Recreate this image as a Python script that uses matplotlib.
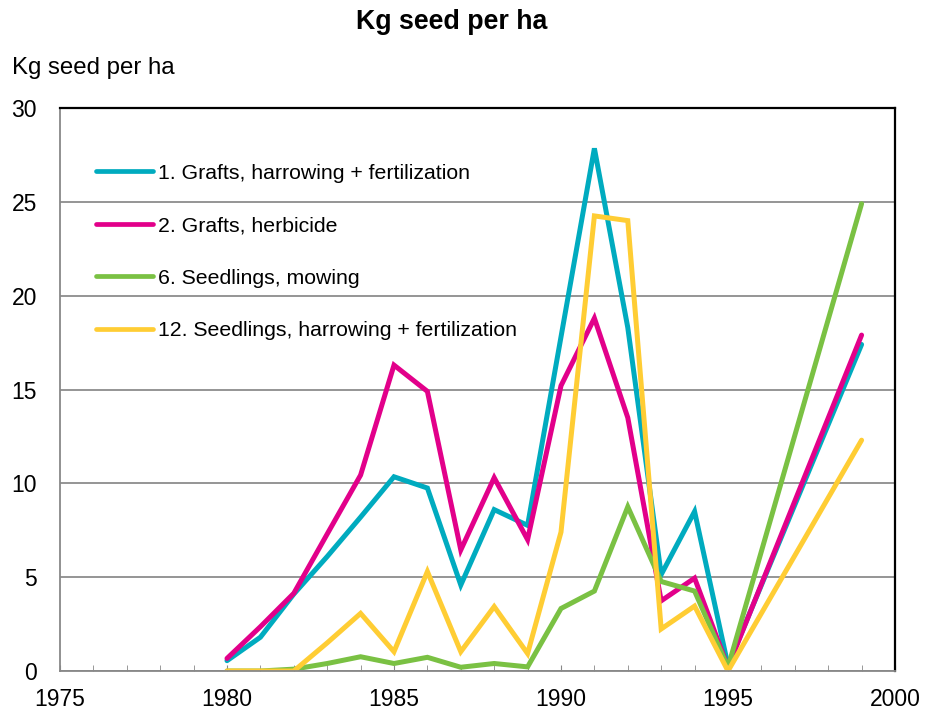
import matplotlib
matplotlib.use('Agg')
from matplotlib import pyplot as plt
from matplotlib.ticker import MultipleLocator

plt.rcParams['font.family'] = ['Liberation Sans', 'DejaVu Sans']

# data
years = [1980, 1981, 1982, 1983, 1984, 1985, 1986, 1987, 1988, 1989,
         1990, 1991, 1992, 1993, 1994, 1995, 1999]
grafts_harrow = [0.55, 1.8, 4.1, 6.1, 8.2, 10.35, 9.75, 4.58, 8.6, 7.76,
                 17.8, 27.85, 18.3, 5.14, 8.5, 0.3, 17.4]
grafts_herb = [0.67, 2.36, 4.14, 7.3, 10.44, 16.3, 14.9, 6.45, 10.3, 7.0,
               15.2, 18.8, 13.5, 3.74, 4.95, 0.2, 17.9]
seedl_mowing = [0.0, 0.0, 0.1, 0.4, 0.76, 0.4, 0.73, 0.2, 0.4, 0.22,
                3.33, 4.26, 8.75, 4.77, 4.26, 0.2, 24.9]
seedl_harrow = [0.0, 0.0, 0.0, 1.5, 3.07, 1.03, 5.3, 1.03, 3.43, 0.93,
                7.4, 24.25, 24.0, 2.24, 3.46, 0.0, 12.3]

labels = ['1. Grafts, harrowing + fertilization',
          '2. Grafts, herbicide',
          '6. Seedlings, mowing',
          '12. Seedlings, harrowing + fertilization']
colors = ['#00abbf', '#e2008a', '#7ac143', '#ffcd34']


def main():
    fig = plt.figure(figsize=(9.26, 7.13), dpi=100)
    ax = fig.add_axes([0.0648, 0.0589, 0.9017, 0.7896])

    series = [grafts_harrow, grafts_herb, seedl_mowing, seedl_harrow]
    for vals, lab, col in zip(series, labels, colors):
        ax.plot(years, vals, color=col, lw=3.6, label=lab,
                solid_joinstyle='miter', solid_capstyle='round')

    ax.set_xlim(1975, 2000)
    ax.set_ylim(0, 30)
    ax.xaxis.set_major_locator(MultipleLocator(5))
    ax.xaxis.set_minor_locator(MultipleLocator(1))
    ax.yaxis.set_major_locator(MultipleLocator(5))
    ax.tick_params(axis='x', which='both', direction='in', length=4.5,
                   color='#888888', labelsize=16.5, pad=12)
    ax.tick_params(axis='y', length=0, labelsize=16.5, pad=16.5)
    ax.grid(axis='y', color='#8c8c8c', lw=1.3)
    ax.set_axisbelow(True)

    for s in ['left', 'bottom']:
        ax.spines[s].set_color('#888888')
        ax.spines[s].set_linewidth(1.3)
    for s in ['top', 'right']:
        ax.spines[s].set_color('black')
        ax.spines[s].set_linewidth(1.6)

    leg = ax.legend(loc='upper left', bbox_to_anchor=(0.043, 0.901),
                    frameon=False, fontsize=15.3, handlelength=2.7,
                    handletextpad=0.2, labelspacing=1.58,
                    borderpad=0, borderaxespad=0)
    for line in leg.get_lines():
        line.set_linewidth(3.4)

    fig.text(0.488, 0.969, 'Kg seed per ha', ha='center', va='center',
             fontsize=19.3, fontweight='bold')
    fig.text(0.013, 0.905, 'Kg seed per ha', ha='left', va='center',
             fontsize=17.3)

    fig.savefig('out.png', dpi=100)


if __name__ == '__main__':
    main()
